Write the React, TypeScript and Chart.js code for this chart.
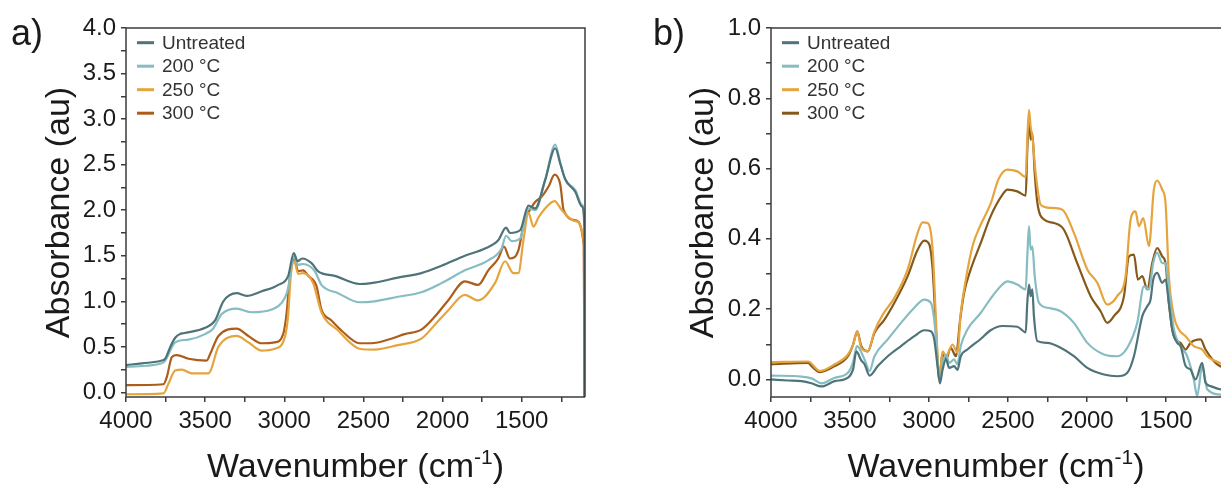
import React, { useEffect, useRef } from 'react';
import { Chart, registerables } from 'chart.js';

Chart.register(...registerables);

type Pt = [number, number];

const FONT = 'Arial, "Liberation Sans", sans-serif';

const seriesLabels = ['Untreated', '200 °C', '250 °C', '300 °C'];
const colorsA = ['#4e7378', '#86bcc2', '#e6a43e', '#ac5d1b'];
const colorsB = ['#4e7378', '#86bcc2', '#e6a43e', '#86591a'];

const xTickValues = [4000, 3750, 3500, 3250, 3000, 2750, 2500, 2250, 2000, 1750, 1500, 1250];
const xTickLabels = ['4000', '', '3500', '', '3000', '', '2500', '', '2000', '', '1500', ''];

const aYTickValues = [0, 0.25, 0.5, 0.75, 1, 1.25, 1.5, 1.75, 2, 2.25, 2.5, 2.75, 3, 3.25, 3.5, 3.75, 4];
const aYTickLabels = ['0.0', '', '0.5', '', '1.0', '', '1.5', '', '2.0', '', '2.5', '', '3.0', '', '3.5', '', '4.0'];
const bYTickValues = [0, 0.1, 0.2, 0.3, 0.4, 0.5, 0.6, 0.7, 0.8, 0.9, 1.0];
const bYTickLabels = ['0.0', '', '0.2', '', '0.4', '', '0.6', '', '0.8', '', '1.0'];

// ---------- Panel a) ----------
const aUntreated: Pt[] = [
  [4000, 0.30], [3899, 0.32], [3773, 0.35], [3752, 0.37], [3720, 0.50], [3689, 0.60], [3660, 0.64], [3637, 0.65],
  [3500, 0.71], [3437, 0.79], [3385, 1.00], [3301, 1.09], [3238, 1.06], [3143, 1.11], [3038, 1.18], [2975, 1.28],
  [2940, 1.53], [2916, 1.44], [2887, 1.47], [2828, 1.42], [2786, 1.33], [2681, 1.28], [2524, 1.19], [2451, 1.20],
  [2282, 1.26], [2134, 1.31], [2007, 1.39], [1859, 1.50], [1732, 1.58], [1648, 1.67], [1599, 1.81], [1574, 1.75],
  [1510, 1.78], [1457, 2.05], [1415, 2.02], [1352, 2.33], [1288, 2.68], [1256, 2.51], [1225, 2.34], [1161, 2.20],
  [1119, 2.04], [1104, 1.82], [1103, -0.05],
];
const a200: Pt[] = [
  [4000, 0.28], [3773, 0.32], [3752, 0.35], [3689, 0.55], [3605, 0.58], [3500, 0.64], [3450, 0.70], [3395, 0.86],
  [3301, 0.92], [3206, 0.88], [3080, 0.91], [2996, 1.04], [2975, 1.15], [2940, 1.49], [2912, 1.40], [2881, 1.41],
  [2807, 1.33], [2765, 1.18], [2660, 1.09], [2524, 0.99], [2430, 1.00], [2282, 1.05], [2134, 1.10], [2007, 1.20],
  [1859, 1.34], [1711, 1.45], [1627, 1.58], [1599, 1.72], [1563, 1.66], [1510, 1.69], [1457, 2.02], [1415, 2.00],
  [1352, 2.33], [1288, 2.72], [1256, 2.52], [1225, 2.34], [1161, 2.22], [1119, 2.06], [1104, 1.86], [1103, -0.05],
];
const a250: Pt[] = [
  [4000, -0.02], [3763, -0.01], [3731, 0.10], [3689, 0.24], [3647, 0.25], [3584, 0.21], [3479, 0.21], [3416, 0.50],
  [3301, 0.62], [3227, 0.55], [3143, 0.46], [3059, 0.48], [2996, 0.61], [2975, 0.86], [2960, 1.26], [2937, 1.44],
  [2912, 1.30], [2881, 1.31], [2818, 1.20], [2765, 0.88], [2660, 0.68], [2524, 0.48], [2430, 0.47], [2282, 0.52],
  [2134, 0.59], [2050, 0.74], [1965, 0.90], [1859, 1.07], [1775, 1.01], [1669, 1.20], [1605, 1.44], [1552, 1.31],
  [1521, 1.31], [1489, 1.67], [1457, 1.97], [1426, 1.82], [1394, 1.92], [1352, 2.02], [1292, 2.10], [1246, 2.00],
  [1161, 1.88], [1104, 1.60], [1103, -0.05],
];
const a300: Pt[] = [
  [4000, 0.08], [3763, 0.09], [3742, 0.17], [3710, 0.39], [3679, 0.41], [3605, 0.37], [3490, 0.35], [3469, 0.42],
  [3416, 0.62], [3301, 0.70], [3227, 0.62], [3143, 0.54], [3059, 0.55], [3007, 0.64], [2986, 0.86], [2965, 1.26],
  [2937, 1.46], [2912, 1.33], [2881, 1.34], [2849, 1.28], [2797, 1.17], [2765, 0.91], [2702, 0.79], [2639, 0.68],
  [2524, 0.54], [2451, 0.54], [2324, 0.59], [2240, 0.64], [2134, 0.69], [2050, 0.83], [1965, 1.01], [1859, 1.22],
  [1775, 1.18], [1711, 1.34], [1648, 1.47], [1612, 1.60], [1574, 1.47], [1521, 1.56], [1478, 1.93], [1457, 1.98],
  [1415, 2.09], [1373, 2.15], [1330, 2.26], [1292, 2.39], [1256, 2.28], [1235, 2.00], [1161, 1.89], [1108, 1.62],
  [1103, -0.05],
];

// ---------- Panel b) ----------
const bUntreated: Pt[] = [
  [4000, 0.0], [3891, -0.003], [3807, -0.005], [3744, -0.011], [3681, -0.02], [3597, -0.005], [3513, 0.005],
  [3480, 0.03], [3460, 0.08], [3430, 0.055], [3408, 0.043], [3376, 0.011], [3324, 0.038], [3261, 0.066],
  [3177, 0.095], [3093, 0.123], [3030, 0.140], [2988, 0.137], [2967, 0.114], [2946, 0.038], [2931, -0.011],
  [2914, 0.028], [2893, 0.057], [2872, 0.033], [2841, 0.038], [2820, 0.027], [2799, 0.066], [2757, 0.085],
  [2673, 0.115], [2610, 0.14], [2536, 0.152], [2441, 0.150], [2388, 0.134], [2378, 0.218], [2367, 0.27],
  [2357, 0.237], [2346, 0.256], [2336, 0.180], [2314, 0.109], [2251, 0.104], [2167, 0.090], [2083, 0.066],
  [1998, 0.033], [1893, 0.014], [1809, 0.009], [1745, 0.019], [1703, 0.066], [1650, 0.180], [1619, 0.208],
  [1598, 0.227], [1581, 0.284], [1556, 0.303], [1524, 0.275], [1503, 0.284], [1482, 0.218], [1461, 0.142],
  [1429, 0.104], [1408, 0.095], [1376, 0.038], [1345, 0.028], [1313, 0.0], [1271, 0.047], [1250, -0.009],
  [1218, -0.019], [1159, -0.028], [1100, -0.03],
];
const b200: Pt[] = [
  [4000, 0.011], [3807, 0.008], [3744, 0.003], [3681, -0.011], [3597, 0.005], [3513, 0.019], [3480, 0.05],
  [3456, 0.095], [3408, 0.057], [3376, 0.024], [3345, 0.066], [3261, 0.114], [3177, 0.161], [3093, 0.204],
  [3030, 0.227], [2988, 0.218], [2967, 0.170], [2946, 0.057], [2931, -0.005], [2914, 0.043], [2893, 0.071],
  [2872, 0.047], [2841, 0.057], [2820, 0.043], [2799, 0.095], [2757, 0.142], [2673, 0.189], [2610, 0.23],
  [2536, 0.270], [2504, 0.279], [2441, 0.270], [2388, 0.256], [2378, 0.350], [2367, 0.436], [2357, 0.369],
  [2346, 0.379], [2331, 0.294], [2304, 0.218], [2251, 0.204], [2167, 0.194], [2083, 0.161], [1998, 0.104],
  [1893, 0.071], [1809, 0.066], [1745, 0.090], [1682, 0.161], [1640, 0.265], [1608, 0.256], [1581, 0.331],
  [1556, 0.360], [1524, 0.331], [1503, 0.331], [1482, 0.256], [1450, 0.142], [1408, 0.095], [1366, 0.066],
  [1324, 0.0], [1303, -0.047], [1271, 0.038], [1239, -0.028], [1159, -0.043], [1100, -0.045],
];
const b250: Pt[] = [
  [4000, 0.049], [3765, 0.051], [3691, 0.024], [3597, 0.043], [3513, 0.071], [3480, 0.10], [3454, 0.137],
  [3429, 0.090], [3387, 0.080], [3345, 0.137], [3292, 0.185], [3219, 0.232], [3135, 0.313], [3072, 0.417],
  [3040, 0.447], [3009, 0.445], [2977, 0.369], [2956, 0.170], [2935, 0.005], [2914, 0.080], [2893, 0.066],
  [2851, 0.099], [2820, 0.076], [2799, 0.189], [2767, 0.284], [2725, 0.379], [2673, 0.44], [2610, 0.50],
  [2560, 0.57], [2504, 0.597], [2441, 0.592], [2388, 0.576], [2378, 0.682], [2367, 0.767], [2357, 0.720],
  [2346, 0.691], [2325, 0.587], [2293, 0.497], [2230, 0.488], [2156, 0.483], [2083, 0.417], [1998, 0.313],
  [1935, 0.275], [1872, 0.213], [1809, 0.237], [1756, 0.294], [1724, 0.455], [1693, 0.478], [1672, 0.436],
  [1644, 0.459], [1608, 0.379], [1577, 0.540], [1556, 0.566], [1524, 0.540], [1503, 0.502], [1482, 0.294],
  [1450, 0.180], [1419, 0.142], [1376, 0.123], [1324, 0.095], [1271, 0.085], [1239, 0.066], [1159, 0.047],
  [1100, 0.04],
];
const b300: Pt[] = [
  [4000, 0.043], [3765, 0.047], [3744, 0.038], [3691, 0.021], [3597, 0.038], [3513, 0.066], [3480, 0.10],
  [3454, 0.137], [3429, 0.095], [3387, 0.080], [3345, 0.133], [3282, 0.170], [3219, 0.218], [3135, 0.294],
  [3072, 0.369], [3030, 0.395], [2998, 0.384], [2977, 0.313], [2956, 0.142], [2935, 0.0], [2914, 0.076],
  [2893, 0.057], [2862, 0.090], [2830, 0.066], [2803, 0.170], [2778, 0.246], [2736, 0.313], [2673, 0.388],
  [2610, 0.464], [2536, 0.525], [2504, 0.540], [2441, 0.535], [2388, 0.523], [2378, 0.653], [2367, 0.748],
  [2357, 0.682], [2346, 0.701], [2331, 0.587], [2314, 0.502], [2272, 0.455], [2209, 0.445], [2146, 0.426],
  [2062, 0.331], [1977, 0.237], [1914, 0.194], [1872, 0.161], [1830, 0.180], [1766, 0.237], [1735, 0.350],
  [1703, 0.355], [1678, 0.284], [1650, 0.294], [1619, 0.256], [1587, 0.331], [1556, 0.374], [1524, 0.350],
  [1503, 0.331], [1482, 0.218], [1450, 0.123], [1408, 0.104], [1376, 0.085], [1345, 0.104], [1282, 0.114],
  [1250, 0.085], [1197, 0.052], [1159, 0.038], [1100, 0.03],
];

const decorPlugin = {
  id: 'decor',
  afterDraw(chart: any, _args: any, opts: any) {
    const { ctx, chartArea } = chart;
    const { left, right, top, bottom } = chartArea;
    ctx.save();
    // frame
    ctx.strokeStyle = '#3c3c3c';
    ctx.lineWidth = 1.5;
    ctx.beginPath();
    ctx.moveTo(left, bottom);
    ctx.lineTo(left, top);
    ctx.lineTo(right, top);
    if (opts.rightBorder) ctx.lineTo(right, bottom);
    ctx.moveTo(left, bottom);
    ctx.lineTo(right, bottom);
    ctx.stroke();
    // legend
    ctx.font = `19px ${FONT}`;
    ctx.textBaseline = 'middle';
    ctx.textAlign = 'left';
    seriesLabels.forEach((lab, i) => {
      const y = top + 14.7 + i * 23.5;
      ctx.strokeStyle = opts.colors[i];
      ctx.lineWidth = 3;
      ctx.beginPath();
      ctx.moveTo(left + 11, y);
      ctx.lineTo(left + 28, y);
      ctx.stroke();
      ctx.fillStyle = '#333333';
      ctx.fillText(lab, left + 36, y + 1);
    });
    // x title with superscript
    const cx = (left + right) / 2;
    const base = 477;
    const mainFont = `34px ${FONT}`;
    const supFont = `21px ${FONT}`;
    const t1 = 'Wavenumber (cm';
    const t2 = '-1';
    const t3 = ')';
    ctx.font = mainFont;
    const w1 = ctx.measureText(t1).width;
    const w3 = ctx.measureText(t3).width;
    ctx.font = supFont;
    const w2 = ctx.measureText(t2).width;
    const total = w1 + w2 + w3;
    let x = cx - total / 2;
    ctx.textBaseline = 'alphabetic';
    ctx.fillStyle = '#1a1a1a';
    ctx.font = mainFont;
    ctx.fillText(t1, x, base);
    x += w1;
    ctx.font = supFont;
    ctx.fillText(t2, x, base - 13);
    x += w2;
    ctx.font = mainFont;
    ctx.fillText(t3, x, base);
    ctx.restore();
  },
};

interface PanelProps {
  series: Pt[][];
  colors: string[];
  xMin: number;
  yMin: number;
  yMax: number;
  yTickValues: number[];
  yTickLabels: string[];
  yAxisWidth: number;
  padRight: number;
  yTitlePad: number;
  rightBorder: boolean;
  width: number;
}

function Panel(p: PanelProps) {
  const ref = useRef<HTMLCanvasElement | null>(null);
  useEffect(() => {
    if (!ref.current) return;
    const tickFont = { family: FONT, size: 24 };
    const chart = new Chart(ref.current, {
      type: 'line',
      data: {
        datasets: p.series.map((s, i) => ({
          label: seriesLabels[i],
          data: s.map(([x, y]) => ({ x, y })),
          borderColor: p.colors[i],
          backgroundColor: p.colors[i],
          borderWidth: 2.2,
          pointRadius: 0,
          cubicInterpolationMode: 'monotone',
          fill: false,
        })),
      },
      options: {
        responsive: false,
        animation: false,
        events: [],
        layout: { padding: { left: 0, top: 28, right: p.padRight, bottom: 0 } },
        plugins: {
          legend: { display: false },
          tooltip: { enabled: false },
          decor: { colors: p.colors, rightBorder: p.rightBorder },
        } as any,
        scales: {
          x: {
            type: 'linear',
            reverse: true,
            min: p.xMin,
            max: 4000,
            afterBuildTicks: (s: any) => {
              s.ticks = xTickValues.map((v) => ({ value: v }));
            },
            afterFit: (s: any) => {
              s.height = 90;
            },
            ticks: {
              autoSkip: false,
              maxRotation: 0,
              minRotation: 0,
              padding: 5,
              color: '#1a1a1a',
              font: tickFont,
              callback: (_v: any, i: number) => xTickLabels[i],
            },
            grid: { drawOnChartArea: false, drawTicks: true, tickLength: 5, color: '#3c3c3c', lineWidth: 1.5 },
            border: { display: false },
          },
          y: {
            type: 'linear',
            min: p.yMin,
            max: p.yMax,
            afterBuildTicks: (s: any) => {
              s.ticks = p.yTickValues.map((v) => ({ value: v }));
            },
            afterFit: (s: any) => {
              s.width = p.yAxisWidth;
            },
            ticks: {
              autoSkip: false,
              padding: 5,
              color: '#1a1a1a',
              font: tickFont,
              callback: (_v: any, i: number) => p.yTickLabels[i],
            },
            grid: { drawOnChartArea: false, drawTicks: true, tickLength: 5, color: '#3c3c3c', lineWidth: 1.5 },
            border: { display: false },
            title: {
              display: true,
              text: 'Absorbance (au)',
              color: '#1a1a1a',
              font: { family: FONT, size: 34 },
              padding: { top: p.yTitlePad, bottom: 0 },
            },
          },
        },
      } as any,
      plugins: [decorPlugin as any],
    });
    return () => chart.destroy();
  }, []);
  return <canvas ref={ref} width={p.width} height={487} style={{ display: 'block' }} />;
}

export default function App() {
  const labelStyle: React.CSSProperties = {
    position: 'absolute',
    top: 15,
    fontFamily: FONT,
    fontSize: 36,
    lineHeight: '36px',
    color: '#1a1a1a',
  };
  return (
    <div
      style={{
        position: 'absolute',
        left: 0,
        top: 0,
        width: 1221,
        height: 487,
        overflow: 'hidden',
        background: '#ffffff',
      }}
    >
      <div style={{ position: 'absolute', left: 0, top: 0, width: 610, height: 487 }}>
        <Panel
          series={[aUntreated, a200, a250, a300]}
          colors={colorsA}
          xMin={1100}
          yMin={-0.05}
          yMax={4.0}
          yTickValues={aYTickValues}
          yTickLabels={aYTickLabels}
          yAxisWidth={126}
          padRight={25}
          yTitlePad={39.6}
          rightBorder={true}
          width={610}
        />
      </div>
      <div style={{ position: 'absolute', left: 610, top: 0, width: 611, height: 487 }}>
        <Panel
          series={[bUntreated, b200, b250, b300]}
          colors={colorsB}
          xMin={1152}
          yMin={-0.05}
          yMax={1.0}
          yTickValues={bYTickValues}
          yTickLabels={bYTickLabels}
          yAxisWidth={161}
          padRight={0}
          yTitlePad={72.8}
          rightBorder={false}
          width={611}
        />
      </div>
      <div style={{ ...labelStyle, left: 11 }}>a)</div>
      <div style={{ ...labelStyle, left: 653 }}>b)</div>
    </div>
  );
}
